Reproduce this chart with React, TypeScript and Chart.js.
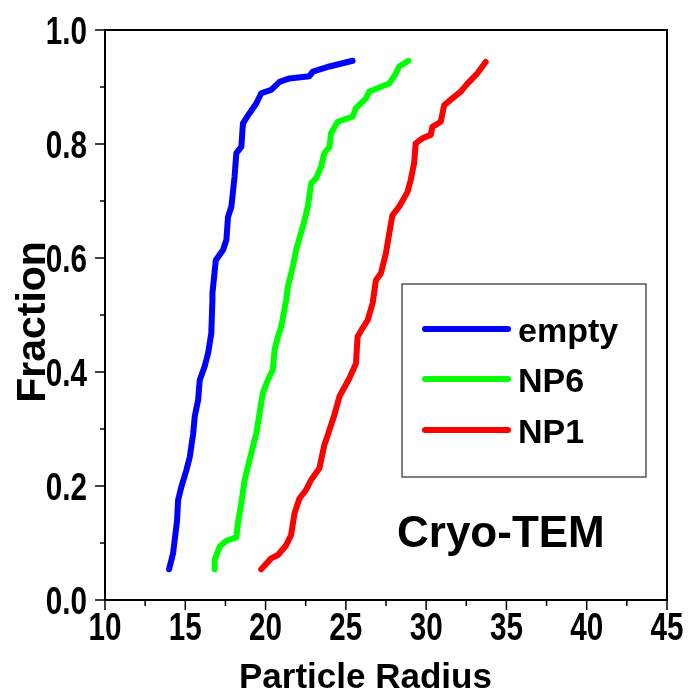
import React, { useEffect, useRef } from "react";
import { Chart, registerables } from "chart.js";

Chart.register(...registerables);

const emptyX = [13.99, 14.24, 14.49, 14.55, 14.76, 15.07, 15.28, 15.49, 15.59, 15.8, 15.9, 16.2, 16.42, 16.62, 16.69, 16.69, 16.9, 17.35, 17.56, 17.66, 17.87, 18.07, 18.18, 18.49, 18.59, 19.0, 19.42, 19.73, 20.35, 20.87, 21.49, 22.73, 22.94, 23.98, 25.42];
const emptyY = [0.054, 0.082, 0.14, 0.175, 0.199, 0.228, 0.251, 0.292, 0.322, 0.351, 0.386, 0.409, 0.433, 0.468, 0.526, 0.538, 0.596, 0.614, 0.632, 0.672, 0.69, 0.743, 0.784, 0.795, 0.836, 0.854, 0.871, 0.889, 0.895, 0.909, 0.915, 0.919, 0.927, 0.936, 0.946];

const np6X = [16.83, 16.83, 17.14, 17.56, 18.18, 18.28, 18.49, 18.7, 18.9, 19.21, 19.42, 19.63, 19.83, 20.14, 20.45, 20.56, 20.77, 20.97, 21.28, 21.39, 21.7, 21.9, 22.32, 22.63, 22.84, 23.15, 23.46, 23.66, 23.98, 24.08, 24.49, 25.42, 25.63, 26.25, 26.46, 27.7, 28.12, 28.32, 28.9];
const np6Y = [0.054, 0.07, 0.094, 0.104, 0.11, 0.135, 0.17, 0.211, 0.234, 0.269, 0.292, 0.328, 0.363, 0.386, 0.404, 0.439, 0.462, 0.479, 0.526, 0.55, 0.585, 0.614, 0.655, 0.69, 0.731, 0.74, 0.76, 0.784, 0.795, 0.819, 0.839, 0.848, 0.863, 0.88, 0.892, 0.906, 0.924, 0.936, 0.946];

const np1X = [19.73, 20.35, 20.77, 21.28, 21.59, 21.8, 22.11, 22.52, 22.84, 23.35, 23.66, 23.87, 24.29, 24.6, 25.22, 25.63, 25.73, 26.04, 26.36, 26.67, 26.87, 27.18, 27.49, 27.7, 27.9, 28.32, 28.84, 29.04, 29.25, 29.35, 29.77, 30.29, 30.39, 30.91, 31.12, 31.63, 32.16, 32.57, 33.19, 33.71];
const np1Y = [0.054, 0.073, 0.079, 0.096, 0.114, 0.152, 0.178, 0.193, 0.211, 0.231, 0.272, 0.289, 0.325, 0.357, 0.389, 0.415, 0.462, 0.477, 0.491, 0.521, 0.561, 0.573, 0.608, 0.643, 0.675, 0.69, 0.716, 0.737, 0.766, 0.801, 0.81, 0.816, 0.83, 0.839, 0.868, 0.88, 0.892, 0.906, 0.924, 0.944];

const seriesLabels = ["empty", "NP6", "NP1"];
const seriesColors = ["#0000ff", "#00ff00", "#ff0000"];
const xTickLabels = ["10", "15", "20", "25", "30", "35", "40", "45"];
const yTickLabels = ["0.0", "0.2", "0.4", "0.6", "0.8", "1.0"];

const xTitle = "Particle Radius";
const yTitle = "Fraction";
const annotation = "Cryo-TEM";

const mainFont = "'Liberation Sans', Arial, sans-serif";

const pts = (xs: number[], ys: number[]) => xs.map((x, i) => ({ x, y: ys[i] }));

const narrowText = (ctx: any, text: string, x: number, y: number, align: string) => {
  ctx.save();
  ctx.translate(x, y);
  ctx.scale(0.78, 1);
  ctx.textAlign = align;
  ctx.textBaseline = "alphabetic";
  ctx.fillText(text, 0, 0);
  ctx.restore();
};

const decor = {
  id: "decor",
  afterDraw(chart: any) {
    const ctx = chart.ctx;
    const a = chart.chartArea;
    const xs = chart.scales.x;
    const ys = chart.scales.y;
    ctx.save();
    // frame
    ctx.strokeStyle = "#000";
    ctx.lineWidth = 2;
    ctx.strokeRect(a.left, a.top, a.right - a.left, a.bottom - a.top);

    // ticks and labels
    ctx.lineWidth = 1.5;
    ctx.fillStyle = "#000";
    ctx.font = "bold 38px " + mainFont;
    const xMajor = xTickLabels.map(Number);
    xMajor.forEach((v, i) => {
      const px = xs.getPixelForValue(v);
      ctx.beginPath();
      ctx.moveTo(px, a.bottom);
      ctx.lineTo(px, a.bottom + 10);
      ctx.stroke();
      narrowText(ctx, xTickLabels[i], px, a.bottom + 40, "center");
      if (i < xMajor.length - 1) {
        const pm = xs.getPixelForValue((v + xMajor[i + 1]) / 2);
        ctx.beginPath();
        ctx.moveTo(pm, a.bottom);
        ctx.lineTo(pm, a.bottom + 6);
        ctx.stroke();
      }
    });
    const yMajor = yTickLabels.map(Number);
    yMajor.forEach((v, i) => {
      const py = ys.getPixelForValue(v);
      ctx.beginPath();
      ctx.moveTo(a.left, py);
      ctx.lineTo(a.left - 10, py);
      ctx.stroke();
      narrowText(ctx, yTickLabels[i], a.left - 18, py + 13.5, "right");
      if (i < yMajor.length - 1) {
        const pm = ys.getPixelForValue((v + yMajor[i + 1]) / 2);
        ctx.beginPath();
        ctx.moveTo(a.left, pm);
        ctx.lineTo(a.left - 5, pm);
        ctx.stroke();
      }
    });

    // legend box
    ctx.strokeStyle = "#555";
    ctx.lineWidth = 1.5;
    ctx.strokeRect(402, 284, 244, 193);
    const lys = [329, 379, 430];
    chart.data.datasets.forEach((ds: any, i: number) => {
      ctx.strokeStyle = ds.borderColor;
      ctx.lineWidth = 6;
      ctx.lineCap = "round";
      ctx.beginPath();
      ctx.moveTo(425, lys[i]);
      ctx.lineTo(508, lys[i]);
      ctx.stroke();
      ctx.fillStyle = "#000";
      ctx.font = "bold 34px " + mainFont;
      ctx.textBaseline = "alphabetic";
      ctx.textAlign = "left";
      ctx.fillText(ds.label, 518, lys[i] + 12.5);
    });

    // annotation
    ctx.font = "bold 44px " + mainFont;
    ctx.fillStyle = "#000";
    ctx.textAlign = "left";
    ctx.fillText(annotation, 397, 547);

    // x title
    ctx.font = "bold 35px " + mainFont;
    ctx.fillText(xTitle, 239, 688);

    // y title
    ctx.translate(45, 322);
    ctx.rotate(-Math.PI / 2);
    ctx.textAlign = "center";
    ctx.font = "bold 41px " + mainFont;
    ctx.fillText(yTitle, 0, 0);
    ctx.restore();
  },
};

export default function App() {
  const ref = useRef<HTMLCanvasElement | null>(null);
  useEffect(() => {
    if (!ref.current) return;
    const series = [pts(emptyX, emptyY), pts(np6X, np6Y), pts(np1X, np1Y)];
    const chart = new Chart(ref.current, {
      type: "line",
      data: {
        datasets: series.map((d, i) => ({
          label: seriesLabels[i],
          data: d,
          borderColor: seriesColors[i],
          backgroundColor: seriesColors[i],
          borderWidth: 6,
          pointRadius: 0,
          tension: 0,
          fill: false,
          borderCapStyle: "round" as const,
          borderJoinStyle: "round" as const,
        })),
      },
      options: {
        animation: false,
        responsive: true,
        maintainAspectRatio: false,
        layout: { padding: { left: 0, right: 21, top: 30, bottom: 0 } },
        plugins: { legend: { display: false }, tooltip: { enabled: false } },
        scales: {
          x: {
            type: "linear",
            min: 10,
            max: 45,
            afterFit: (s: any) => { s.height = 94; },
            ticks: { display: false },
            grid: { display: false },
            border: { display: false },
          },
          y: {
            type: "linear",
            min: 0,
            max: 1,
            afterFit: (s: any) => { s.width = 105; },
            ticks: { display: false },
            grid: { display: false },
            border: { display: false },
          },
        },
      },
      plugins: [decor],
    });
    return () => chart.destroy();
  }, []);
  return (
    <div style={{ position: "fixed", left: 0, top: 0, width: 688, height: 694, background: "#fff" }}>
      <canvas ref={ref} />
    </div>
  );
}
